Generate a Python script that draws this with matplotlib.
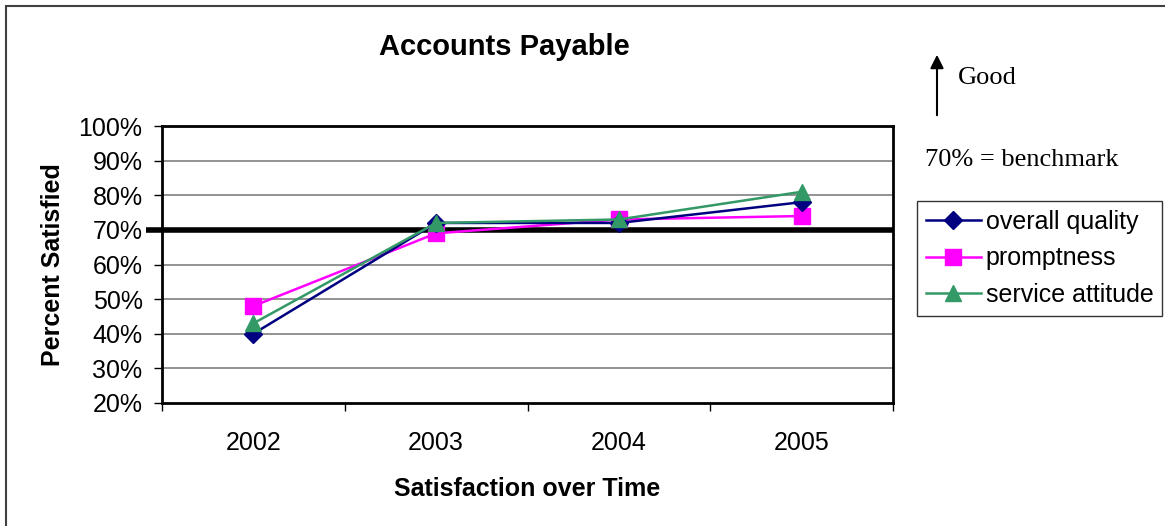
import numpy as np
import matplotlib.pyplot as plt
from matplotlib.patches import Rectangle

# ---------------------------------------------------------------- data
years = ['2002', '2003', '2004', '2005']
overall_quality = [40, 72, 72, 78]
promptness = [48, 69, 73, 74]
service_attitude = [43, 72, 73, 81]
benchmark = 70
yticks = [20, 30, 40, 50, 60, 70, 80, 90, 100]

# ---------------------------------------------------------------- figure
plt.rcParams['font.family'] = ['Liberation Sans', 'DejaVu Sans']
fig = plt.figure(figsize=(11.65, 5.26), dpi=100)
ax = fig.add_axes([162/1165, 1-403/526, (893-162)/1165, (403-126)/526])

# frame round the whole chart (only top and left are in view)
fig.patches.append(Rectangle((6/1165, -0.1), 1.2, 1-6/526+0.1, transform=fig.transFigure,
                             fill=False, edgecolor='#404040', linewidth=1.5))

x = np.arange(len(years))
ax.set_xlim(-0.5, len(years)-0.5)
ax.set_ylim(20, 100)

for v in yticks[1:-1]:
    ax.axhline(v, color='#808080', linewidth=1.2, zorder=1)

# benchmark line runs a little past the left axis
ax.plot([-0.022, 1.0], [benchmark, benchmark], transform=ax.get_yaxis_transform(),
        color='black', linewidth=4, clip_on=False, zorder=2, solid_capstyle='butt')

ax.plot(x, overall_quality, color='#000080', marker='D', markersize=9.5, linewidth=1.8,
        label='overall quality', zorder=5)
ax.plot(x, promptness, color='#FF00FF', marker='s', markersize=11, linewidth=1.8,
        label='promptness', zorder=4)
ax.plot(x, service_attitude, color='#339966', marker='^', markersize=12, linewidth=1.8,
        label='service attitude', zorder=6)

ax.set_yticks(yticks)
ax.set_yticklabels([f'{v}%' for v in yticks], fontsize=18)
ax.set_xticks(x)
ax.set_xticklabels(years, fontsize=18)
ax.set_xticks(np.arange(-0.5, len(years)), minor=True)
ax.tick_params(axis='x', which='major', length=0, pad=20)
ax.tick_params(axis='x', which='minor', length=6, width=1)
ax.tick_params(axis='y', length=6, width=1, pad=8)

for s in ax.spines.values():
    s.set_linewidth(2)
    s.set_color('black')

ax.set_ylabel('Percent Satisfied', fontsize=18, fontweight='bold', labelpad=10)
ax.set_xlabel('Satisfaction over Time', fontsize=18, fontweight='bold', labelpad=16)

fig.text(504/1165, 1-47/526, 'Accounts Payable', fontsize=21, fontweight='bold',
         ha='center', va='center')

# notes on the right
fig.add_artist(plt.Annotation('', xy=(937/1165, 1-52/526), xytext=(937/1165, 1-118/526),
                              xycoords='figure fraction',
                              arrowprops=dict(arrowstyle='-|>', color='black', lw=1.5,
                                              mutation_scale=20)))
fig.text(958/1165, 1-78/526, 'Good', fontsize=19, family='Liberation Serif', va='center')
fig.text(925/1165, 1-160/526, '70% = benchmark', fontsize=19, family='Liberation Serif',
         va='center')

leg = fig.legend(loc='upper left', bbox_to_anchor=(917/1165, 1-201/526), fontsize=18,
                 frameon=True, fancybox=False, edgecolor='black', borderpad=0.35,
                 handlelength=2.2, handletextpad=0.2, labelspacing=0.5, borderaxespad=0)
leg.get_frame().set_linewidth(1)

fig.savefig('out.png', dpi=100)
